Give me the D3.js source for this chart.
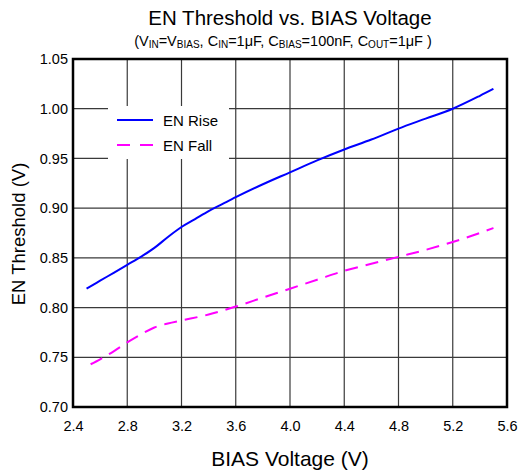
<!DOCTYPE html>
<html>
<head>
<meta charset="utf-8">
<script src="https://cdn.jsdelivr.net/npm/d3@7"></script>
<style>
  html, body { margin: 0; padding: 0; background: #fff; }
  svg { display: block; font-family: "Liberation Sans", Arial, sans-serif; }
</style>
</head>
<body>
<svg id="chart" width="519" height="472"></svg>
<script>
const xTicks = [2.4, 2.8, 3.2, 3.6, 4.0, 4.4, 4.8, 5.2, 5.6];
const yTicks = [0.70, 0.75, 0.80, 0.85, 0.90, 0.95, 1.00, 1.05];

const riseV = [2.5, 2.6, 2.7, 2.8, 2.9, 3.0, 3.1, 3.2, 3.3, 3.4, 3.5, 3.6, 3.8, 4.0, 4.2, 4.4, 4.6, 4.8, 5.0, 5.2, 5.4, 5.5];
const riseT = [0.819, 0.827, 0.835, 0.843, 0.851, 0.860, 0.871, 0.881, 0.889, 0.897, 0.904, 0.911, 0.924, 0.936, 0.948, 0.959, 0.969, 0.980, 0.990, 1.000, 1.013, 1.020];

const fallV = [2.53, 2.6, 2.7, 2.8, 2.9, 3.0, 3.1, 3.2, 3.4, 3.6, 3.8, 4.0, 4.2, 4.4, 4.6, 4.8, 5.0, 5.2, 5.4, 5.5];
const fallT = [0.743, 0.748, 0.756, 0.765, 0.773, 0.780, 0.784, 0.787, 0.793, 0.801, 0.810, 0.819, 0.828, 0.837, 0.844, 0.851, 0.858, 0.866, 0.875, 0.880];

const seriesNames = ["EN Rise", "EN Fall"];

const svg = d3.select("#chart");
const L = 73, R = 507, T = 59, B = 407;

const x = d3.scaleLinear().domain([2.4, 5.6]).range([L, R]);
const y = d3.scaleLinear().domain([0.70, 1.05]).range([B, T]);

// grid
const grid = svg.append("g");
grid.selectAll(".vg").data(xTicks.slice(1, -1)).enter().append("line")
  .attr("x1", d => x(d)).attr("x2", d => x(d)).attr("y1", T).attr("y2", B)
  .attr("stroke", "#3a3a3a").attr("stroke-width", 1.2);
grid.selectAll(".hg").data(yTicks.slice(1, -1)).enter().append("line")
  .attr("y1", d => y(d)).attr("y2", d => y(d)).attr("x1", L).attr("x2", R)
  .attr("stroke", "#3a3a3a").attr("stroke-width", 1.2);

// axes labels
const xAxis = d3.axisBottom(x).tickValues(xTicks).tickFormat(d3.format(".1f")).tickSize(0).tickPadding(14);
const gx = svg.append("g").attr("transform", `translate(0,${B})`).call(xAxis);
gx.select(".domain").remove();
gx.selectAll("text").attr("font-size", 14.5).attr("fill", "#000").attr("font-family", "Liberation Sans, Arial, sans-serif");

const yAxis = d3.axisLeft(y).tickValues(yTicks).tickFormat(d3.format(".2f")).tickSize(0).tickPadding(5);
const gy = svg.append("g").attr("transform", `translate(${L},0)`).call(yAxis);
gy.select(".domain").remove();
gy.selectAll("text").attr("font-size", 14.5).attr("fill", "#000").attr("font-family", "Liberation Sans, Arial, sans-serif");

// legend box
const lg = svg.append("g");
lg.append("rect").attr("x", 108).attr("y", 106).attr("width", 121).attr("height", 53).attr("fill", "#fff");

// lines
const line = d3.line().x(d => x(d[0])).y(d => y(d[1])).curve(d3.curveMonotoneX);
const riseData = riseV.map((v, i) => [v, riseT[i]]);
const fallData = fallV.map((v, i) => [v, fallT[i]]);

svg.append("path").datum(riseData).attr("d", line)
  .attr("fill", "none").attr("stroke", "#0000ff").attr("stroke-width", 2);
svg.append("path").datum(fallData).attr("d", line)
  .attr("fill", "none").attr("stroke", "#ff00ff").attr("stroke-width", 2)
  .attr("stroke-dasharray", "13,8");

// legend entries
lg.append("line").attr("x1", 117).attr("x2", 153).attr("y1", 120).attr("y2", 120)
  .attr("stroke", "#0000ff").attr("stroke-width", 2);
lg.append("text").attr("x", 163).attr("y", 125.5).attr("font-size", 15).text(seriesNames[0]);
lg.append("line").attr("x1", 117).attr("x2", 153).attr("y1", 145).attr("y2", 145)
  .attr("stroke", "#ff00ff").attr("stroke-width", 2).attr("stroke-dasharray", "13,10");
lg.append("text").attr("x", 163).attr("y", 150.5).attr("font-size", 15).text(seriesNames[1]);

// frame
svg.append("rect").attr("x", L).attr("y", T).attr("width", R - L).attr("height", B - T)
  .attr("fill", "none").attr("stroke", "#000").attr("stroke-width", 2.5);

// titles
svg.append("text").attr("x", 290).attr("y", 25).attr("text-anchor", "middle")
  .attr("font-size", 20.5).text("EN Threshold vs. BIAS Voltage");

const sub = svg.append("text").attr("x", 283).attr("y", 46).attr("text-anchor", "middle").attr("font-size", 14.5);
const parts = [["(V", 0], ["IN", 1], ["=V", 0], ["BIAS", 1], [", C", 0], ["IN", 1], ["=1μF, C", 0], ["BIAS", 1], ["=100nF, C", 0], ["OUT", 1], ["=1μF )", 0]];
parts.forEach(([t, s], i) => {
  const prev = i > 0 ? parts[i - 1][1] : 0;
  let dy = 0;
  if (s && !prev) dy = 2;
  if (!s && prev) dy = -2;
  const ts = sub.append("tspan").text(t).attr("dy", dy);
  if (s) ts.attr("font-size", 10);
});

svg.append("text").attr("x", 290).attr("y", 466).attr("text-anchor", "middle")
  .attr("font-size", 21).text("BIAS Voltage (V)");
svg.append("text").attr("transform", "translate(25,234) rotate(-90)").attr("text-anchor", "middle")
  .attr("font-size", 18.5).text("EN Threshold (V)");
</script>
</body>
</html>
